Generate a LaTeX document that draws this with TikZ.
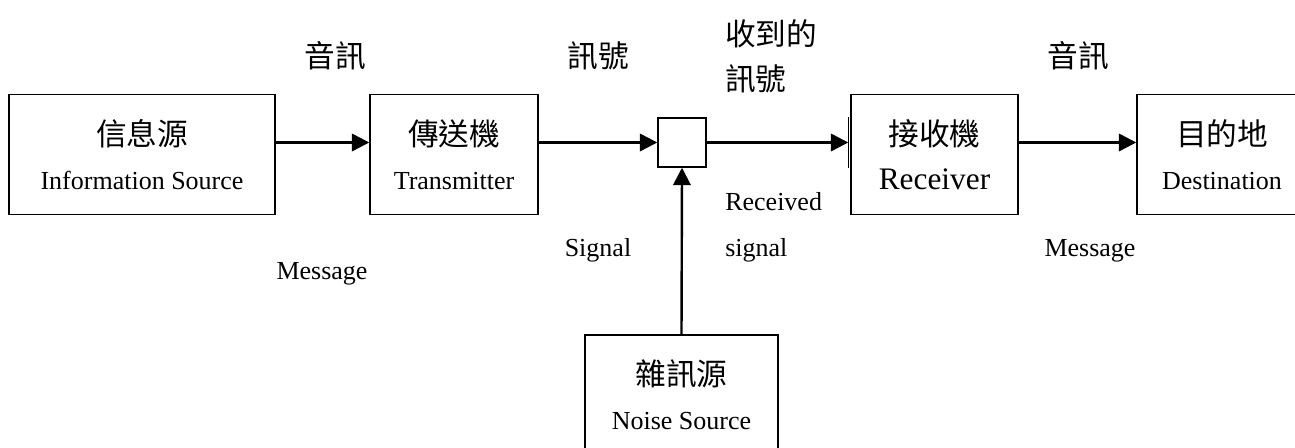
\documentclass[tikz,border=0pt]{standalone}
\usepackage{fontspec}
\setmainfont{Liberation Serif}
\newfontfamily\cjk{Noto Sans CJK TC}
\usetikzlibrary{arrows.meta, calc}

\begin{document}
\begin{tikzpicture}[x=0.75pt, y=-0.75pt,
    blk/.style={draw, line width=1.1pt, align=center, inner sep=0pt,
      minimum height=90pt, font=\fontsize{19.5}{33}\selectfont},
    lnk/.style={line width=1.8pt, -{Triangle[length=13pt, width=13pt]}},
    zh/.style={inner sep=0pt, font=\fontsize{23}{30}\selectfont\cjk},
    en/.style={inner sep=0pt, font=\fontsize{19.5}{24}\selectfont}]
  \useasboundingbox (0,0) rectangle (1295,448);

  % blocks
  \node[blk, minimum width=199.5pt] (src) at (142,154.5)
    {{\fontsize{23}{33}\cjk 信息源}\\Information Source};
  \node[blk, minimum width=126pt] (tx) at (454,154.5)
    {{\fontsize{23}{33}\cjk 傳送機}\\Transmitter};
  \node[draw, line width=1.1pt, minimum width=36pt, minimum height=36.75pt,
    inner sep=0pt] (jn) at (682,142.5) {};
  \node[blk, minimum width=125.25pt] (rx) at (934.5,154.5)
    {{\fontsize{23}{33}\cjk 接收機}\\{\fontsize{23.5}{33}\selectfont Receiver}};
  \node[blk, minimum width=127.5pt] (dst) at (1222,154.5)
    {{\fontsize{23}{33}\cjk 目的地}\\Destination};
  \node[blk, minimum width=144.75pt] (ns) at (681.5,395)
    {{\fontsize{23}{33}\cjk 雜訊源}\\Noise Source};

  % links
  \coordinate (rxin) at ($(rx.west |- jn.west)+(-2,0)$);
  \draw[lnk] (src.east |- jn.west) -- (tx.west |- jn.west);
  \draw[lnk] (tx.east |- jn.west) -- (jn.west);
  \draw[lnk] (jn.east) -- (rxin);
  \draw[line width=1.1pt] (rxin |- jn.north) -- (rxin |- jn.south);
  \draw[lnk] (rx.east |- jn.west) -- (dst.west |- jn.west);
  \draw[lnk] (ns.north) -- (jn.south);

  % labels
  \node[zh] (msgzh) at (335,56) {音訊};
  \node[zh] (sigzh) at (598,56) {訊號};
  \node[zh, anchor=west] (rcvzha) at (725,34) {收到的};
  \node[zh, anchor=west] (rcvzhb) at (725,79) {訊號};
  \node[zh] (outzh) at (1078,56) {音訊};
  \node[en, anchor=base] (msgen) at (322,280) {Message};
  \node[en, anchor=base] (sigen) at (598,257) {Signal};
  \node[en, anchor=base west] (rcvena) at (725,211) {Received};
  \node[en, anchor=base west] (rcvenb) at (725,257) {signal};
  \node[en, anchor=base] (outen) at (1090,257) {Message};
\end{tikzpicture}
\end{document}
